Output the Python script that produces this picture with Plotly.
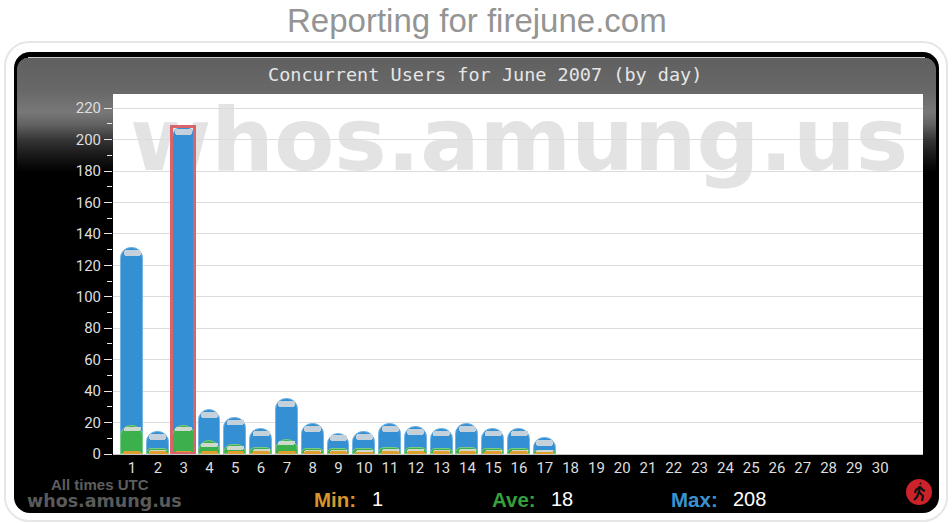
import math
import plotly.graph_objects as go

W, H = 952, 523
L, R, T, B = 113, 923, 94, 454

page_title = "Reporting for firejune.com"
chart_title = "Concurrent Users for June 2007 (by day)"
watermark = "whos.amung.us"
day_labels = [str(d) for d in range(1, 31)]
days = list(range(1, 18))
max_users = [131, 14, 208, 28, 23, 16, 35, 19, 13, 14, 19, 17, 16, 19, 16, 16, 10]
ave_users = [18, 3, 18, 8, 6, 4, 9, 3, 3, 3, 4, 4, 3, 4, 3, 3, 2]
min_users = [2, 2, 2, 2, 2, 2, 2, 2, 2, 1, 2, 2, 2, 2, 2, 2, 1]
selected_day = [3]
selected_max = [208]
y_ticks = list(range(0, 221, 20))

X_RANGE = [0.26, 31.66]
Y_RANGE = [0, 229]


def px(x):
    return (x - L) / (R - L)


def py(y):
    return (B - y) / (B - T)


def rrect(x0, y0, x1, y1, r):
    k = r * 0.45
    return (
        f"M{px(x0 + r)},{py(y0)} L{px(x1 - r)},{py(y0)} "
        f"C{px(x1 - k)},{py(y0)} {px(x1)},{py(y0 + k)} {px(x1)},{py(y0 + r)} "
        f"L{px(x1)},{py(y1 - r)} "
        f"C{px(x1)},{py(y1 - k)} {px(x1 - k)},{py(y1)} {px(x1 - r)},{py(y1)} "
        f"L{px(x0 + r)},{py(y1)} "
        f"C{px(x0 + k)},{py(y1)} {px(x0)},{py(y1 - k)} {px(x0)},{py(y1 - r)} "
        f"L{px(x0)},{py(y0 + r)} "
        f"C{px(x0)},{py(y0 + k)} {px(x0 + k)},{py(y0)} {px(x0 + r)},{py(y0)} Z"
    )


def box(x0, y0, x1, y1, fill, **kw):
    return dict(type="rect", xref="paper", yref="paper", x0=px(x0), x1=px(x1),
                y0=py(y1), y1=py(y0), fillcolor=fill, line=dict(width=0), layer="below", **kw)


shapes = [
    dict(type="path", xref="paper", yref="paper", path=rrect(5, 42, 947, 521, 24),
         fillcolor="#ffffff", line=dict(color="#e6e6e6", width=2), layer="below"),
    dict(type="path", xref="paper", yref="paper", path=rrect(14, 52, 939, 513, 16),
         fillcolor="#000000", line=dict(width=0), layer="below"),
]

stops = [(57, 0x60), (90, 0x68), (112, 0x78), (124, 0x62), (140, 0x34), (155, 0x18), (172, 0x00)]


def grey(y):
    for (a, ca), (b, cb) in zip(stops, stops[1:]):
        if a <= y <= b:
            return round(ca + (cb - ca) * (y - a) / (b - a))
    return 0


for y in range(57, 172, 1):
    dy = max(0, 12 - (y - 57))
    inset = 12 - math.sqrt(max(0, 144 - dy * dy))
    g = grey(y)
    shapes.append(box(17 + inset, y, 936 - inset, y + 1, f"rgb({g},{g},{g})"))

shapes.append(box(28, 57, 925, 58, "#c8c8c8"))
shapes.append(box(L, T, R, B, "#ffffff"))
shapes.append(dict(
    type="rect", xref="paper", yref="paper", x0=px(L - 2), x1=px(R + 4), y0=py(175), y1=py(91),
    fillcolor="rgba(0,0,0,0)", line=dict(width=0), layer="below",
    label=dict(text="<b>" + watermark + "</b>", textposition="middle center",
               font=dict(family="DejaVu Sans", size=88, color="#e3e3e3")),
))

shapes.append(dict(type="circle", xref="paper", yref="paper", x0=px(906), x1=px(932),
                   y0=py(505), y1=py(479), fillcolor="#cc2229", line=dict(width=0)))
walker = [
    ((920, 483), (921, 484)),
    ((920, 486), (919, 492)),
    ((919, 492), (923, 496), (922, 501)),
    ((919, 492), (917, 497), (914, 500)),
    ((920, 487), (916, 490), (915, 493)),
    ((920, 487), (923, 490), (925, 491)),
]
for seg in walker:
    d = "M" + " L".join(f"{px(a)},{py(b)}" for a, b in seg)
    shapes.append(dict(type="path", xref="paper", yref="paper", path=d,
                       line=dict(color="#111111", width=2.2)))

BAR_W = 0.85
GLOSS_W = 0.66
traces = [
    go.Bar(x=days, y=max_users, width=BAR_W, name="Max",
           marker=dict(color="#3490d2", cornerradius=11, line=dict(color="#74b4e4", width=1))),
    go.Bar(x=days, y=[3.6] * len(days), base=[v - 4.8 for v in max_users], width=GLOSS_W, name="Max gloss",
           marker=dict(color="#c4d0da", cornerradius=6, line=dict(width=0))),
    go.Bar(x=days, y=ave_users, width=BAR_W, name="Ave",
           marker=dict(color="#3cb04c", cornerradius=11, line=dict(color="#7acb84", width=1))),
    go.Bar(x=days, y=[2.6] * len(days), base=[max(v - 3.4, 0) for v in ave_users], width=GLOSS_W, name="Ave gloss",
           marker=dict(color="#cfd8cc", cornerradius=6, line=dict(width=0))),
    go.Bar(x=days, y=min_users, width=BAR_W * 0.8, name="Min",
           marker=dict(color="#e0a030", cornerradius=5, line=dict(width=0))),
    go.Bar(x=selected_day, y=selected_max, width=BAR_W + 0.03, name="Selected",
           marker=dict(color="rgba(0,0,0,0)", line=dict(color="#d9646a", width=3))),
]

layout_axes = {}
for i, tr in enumerate(traces):
    if i == 0:
        continue
    n = i + 1
    tr.update(xaxis=f"x{n}", yaxis=f"y{n}")
    layout_axes[f"xaxis{n}"] = dict(range=X_RANGE, visible=False, overlaying="x", fixedrange=True)
    layout_axes[f"yaxis{n}"] = dict(range=Y_RANGE, visible=False, overlaying="y", fixedrange=True)

fig = go.Figure(traces)


def note(x, y, text, color, size, anchor="left", bold=False, family="Liberation Sans", **kw):
    return dict(xref="paper", yref="paper", x=px(x), y=py(y), text=text, showarrow=False,
                xanchor=anchor, yanchor="middle",
                font=dict(family=family, size=size, color=color, weight="bold" if bold else "normal"), **kw)


annotations = [
    note(477, 20, page_title, "#949494", 33, "center"),
    note(485, 75, chart_title, "#e6e6e6", 18.5, "center", family="DejaVu Sans Mono"),
    note(50, 484, "All times UTC", "#5e5e5e", 15, bold=True, height=13, borderpad=0),
    note(26, 501, "whos.amung.us", "#5a5a5a", 17.5, bold=True, family="DejaVu Sans", height=20, borderpad=0),
    note(312, 499, "Min:", "#d8962a", 20.5, bold=True),
    note(370, 499, "1", "#ffffff", 20),
    note(490, 499, "Ave:", "#36a03c", 20.5, bold=True),
    note(549, 499, "18", "#ffffff", 20),
    note(669, 499, "Max:", "#3b92d0", 20.5, bold=True),
    note(731, 499, "208", "#ffffff", 20),
]

fig.update_layout(
    width=W, height=H, autosize=False,
    margin=dict(l=L, r=W - R, t=T, b=H - B, pad=0, autoexpand=False),
    paper_bgcolor="#ffffff", plot_bgcolor="rgba(0,0,0,0)",
    barmode="overlay", bargap=0, showlegend=False,
    shapes=shapes, annotations=annotations,
    xaxis=dict(range=X_RANGE, tickmode="array", tickvals=list(range(1, 31)), ticktext=day_labels,
               showgrid=False, zeroline=False, ticks="", showline=True, linecolor="#c4c4c4", linewidth=1,
               tickfont=dict(family="Roboto", size=15, color="#dddddd"), fixedrange=True),
    yaxis=dict(range=Y_RANGE, tickmode="array", tickvals=y_ticks, showgrid=True, gridcolor="#dcdcdc", gridwidth=1,
               zeroline=False, showline=False, ticks="outside", ticklen=8, tickcolor="#e8e8e8", tickwidth=1,
               minor=dict(tickvals=list(range(10, 221, 20)), ticks="outside", ticklen=5, tickcolor="#e8e8e8",
                          tickwidth=1, showgrid=False),
               tickfont=dict(family="Roboto", size=15, color="#dddddd"), fixedrange=True),
    **layout_axes,
)

fig.write_html("out.html", config={"displayModeBar": False},
               post_script="document.body.style.margin='0';document.body.style.overflow='hidden';")
